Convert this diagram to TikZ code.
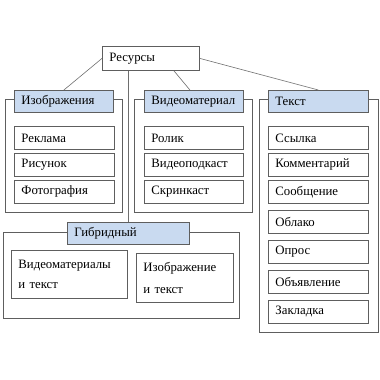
\documentclass[tikz,border=0pt]{standalone}
\usepackage{fontspec}
\setmainfont{Liberation Serif}
\definecolor{hdrfill}{HTML}{C9DAF0}
\definecolor{frm}{HTML}{5E5E5E}
\definecolor{conn}{HTML}{6E6E6E}
\tikzset{
  item/.style={draw=frm, line width=0.8pt, fill=white, anchor=north west, inner xsep=7pt, inner ysep=0pt, align=left, font=\fontsize{12.8}{20}\selectfont},
  hdr/.style={item, fill=hdrfill, draw=frm},
  frame/.style={draw=frm, line width=0.8pt},
  link/.style={draw=conn, line width=0.6pt}
}
\begin{document}
\begin{tikzpicture}[x=1pt,y=-1pt]
\useasboundingbox (0,0) rectangle (380,380);
% frames
\draw[frame] (5,99) rectangle (122,212);
\draw[frame] (134,99) rectangle (252,212);
\draw[frame] (259,99) rectangle (378,332);
\draw[frame] (3,232) rectangle (239,318);
% root
\node[item, minimum width=97pt, minimum height=24pt, text width=83pt] (res) at (102,46) {Ресурсы};
% headers
\node[hdr, minimum width=99pt, minimum height=22pt, text width=85pt] (izoh) at (14,90) {Изображения};
\node[hdr, minimum width=99pt, minimum height=22pt, text width=85pt] (vidh) at (144,90) {Видеоматериал};
\node[hdr, minimum width=100pt, minimum height=22pt, text width=86pt] (texh) at (268,90) {Текст};
\node[hdr, minimum width=122pt, minimum height=22pt, text width=108pt] (hybh) at (67,222) {Гибридный};
% image items
\node[item, minimum width=100pt, minimum height=23pt, text width=86pt] (i1) at (14,126) {Реклама};
\node[item, minimum width=100pt, minimum height=23pt, text width=86pt] (i2) at (14,153) {Рисунок};
\node[item, minimum width=100pt, minimum height=23pt, text width=86pt] (i3) at (14,180) {Фотография};
% video items
\node[item, minimum width=99pt, minimum height=23pt, text width=85pt] (v1) at (144,126) {Ролик};
\node[item, minimum width=99pt, minimum height=23pt, text width=85pt] (v2) at (144,153) {Видеоподкаст};
\node[item, minimum width=99pt, minimum height=23pt, text width=85pt] (v3) at (144,180) {Скринкаст};
% text items
\node[item, minimum width=100pt, minimum height=23pt, text width=86pt] (t1) at (268,126) {Ссылка};
\node[item, minimum width=100pt, minimum height=23pt, text width=86pt] (t2) at (268,153) {Комментарий};
\node[item, minimum width=100pt, minimum height=23pt, text width=86pt] (t3) at (268,180) {Сообщение};
\node[item, minimum width=100pt, minimum height=23pt, text width=86pt] (t4) at (268,210) {Облако};
\node[item, minimum width=100pt, minimum height=23pt, text width=86pt] (t5) at (268,240) {Опрос};
\node[item, minimum width=100pt, minimum height=23pt, text width=86pt] (t6) at (268,270) {Объявление};
\node[item, minimum width=100pt, minimum height=23pt, text width=86pt] (t7) at (268,300) {Закладка};
% hybrid items
\node[item, minimum width=116pt, minimum height=48pt, text width=102pt] (h1) at (11,250) {Видеоматериалы\\и текст};
\node[item, minimum width=97pt, minimum height=49pt, text width=83pt, font=\fontsize{12.8}{22}\selectfont] (h2) at (136,253) {Изображение\\и текст};
% connectors
\draw[link] (res.west) -- (izoh.north);
\draw[link] ([xshift=23pt]res.south) -- ([xshift=-4pt]vidh.north);
\draw[link] (res.east) -- (texh.north);
\draw[link] (hybh.north |- res.south) -- (hybh.north);
\end{tikzpicture}
\end{document}
